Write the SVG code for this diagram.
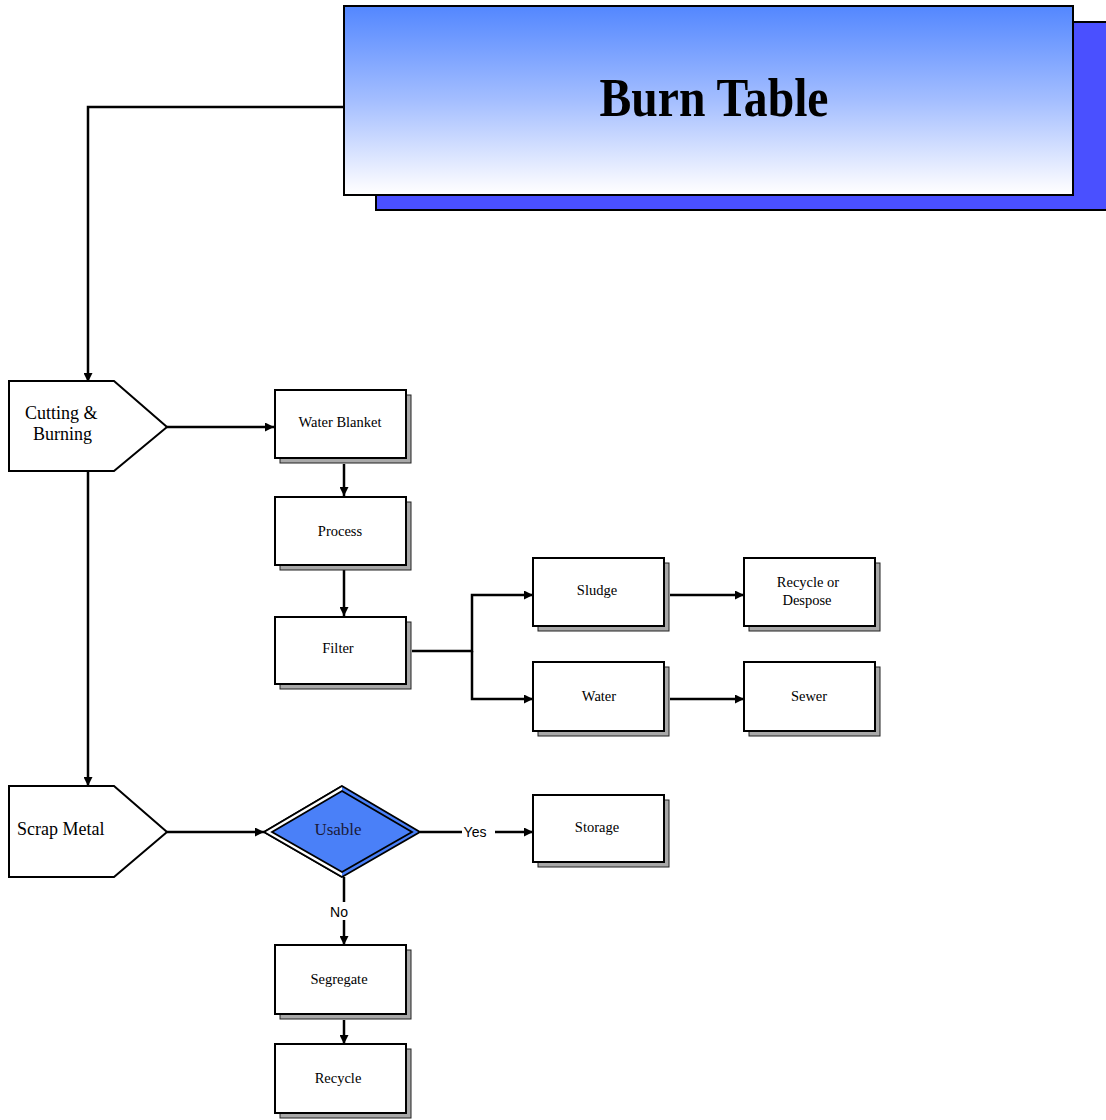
<svg xmlns="http://www.w3.org/2000/svg" width="1106" height="1120" viewBox="0 0 1106 1120">
  <defs>
    <linearGradient id="titleFill" x1="0" y1="0" x2="0" y2="1">
      <stop offset="0" stop-color="#5387ff"/>
      <stop offset="0.5" stop-color="#a4beff"/>
      <stop offset="0.95" stop-color="#f8f9ff"/>
      <stop offset="1" stop-color="#ffffff"/>
    </linearGradient>
    <marker id="arrow" viewBox="0 0 10 10" refX="10" refY="5" markerWidth="9" markerHeight="9" markerUnits="userSpaceOnUse" orient="auto">
      <path d="M0,0 L10,5 L0,10 z" fill="#000"/>
    </marker>
  </defs>
  <style>
    .box { fill: #ffffff; stroke: #000; stroke-width: 2; }
    .shadow { fill: #a8a8a8; stroke: #222; stroke-width: 1; }
    .label { font-family: "Liberation Serif", "Times New Roman", serif; font-size: 14.5px; fill: #000; text-anchor: middle; }
    .big { font-family: "Liberation Serif", "Times New Roman", serif; font-size: 18px; fill: #000; }
    .edge { fill: none; stroke: #000; stroke-width: 2.5; }
    .elabel { font-family: "Liberation Sans", Arial, sans-serif; font-size: 14px; fill: #000; text-anchor: middle; }
  </style>

  <rect width="1106" height="1120" fill="#ffffff"/>

  <!-- connectors -->
  <g id="connectors">
    <path class="edge" d="M344,107 H88 V382" marker-end="url(#arrow)"/>
    <path class="edge" d="M167,427 H274" marker-end="url(#arrow)"/>
    <path class="edge" d="M344,464 V496" marker-end="url(#arrow)"/>
    <path class="edge" d="M344,570 V616" marker-end="url(#arrow)"/>
    <path class="edge" d="M412,651 H472 V595 H533" marker-end="url(#arrow)"/>
    <path class="edge" d="M472,651 V699 H533" marker-end="url(#arrow)"/>
    <path class="edge" d="M670,595 H744" marker-end="url(#arrow)"/>
    <path class="edge" d="M670,699 H744" marker-end="url(#arrow)"/>
    <path class="edge" d="M88,471 V786" marker-end="url(#arrow)"/>
    <path class="edge" d="M167,832 H264" marker-end="url(#arrow)"/>
    <path class="edge" d="M420,832 H462"/>
    <path class="edge" d="M495,832 H533" marker-end="url(#arrow)"/>
    <text class="elabel" x="475" y="837">Yes</text>
    <path class="edge" d="M344,877 V902"/>
    <path class="edge" d="M344,920 V945" marker-end="url(#arrow)"/>
    <text class="elabel" x="339" y="917">No</text>
    <path class="edge" d="M344,1020 V1044" marker-end="url(#arrow)"/>
  </g>

  <!-- title -->
  <g id="title">
    <rect x="376" y="22" width="740" height="188" fill="#4a50ff" stroke="#000" stroke-width="2"/>
    <rect x="344" y="6" width="729" height="189" fill="url(#titleFill)" stroke="#000" stroke-width="2"/>
    <text x="714" y="116" font-family="Liberation Serif, 'Times New Roman', serif" font-weight="bold" font-size="54" text-anchor="middle" textLength="229" lengthAdjust="spacingAndGlyphs">Burn Table</text>
  </g>

  <g id="cutting">
    <path class="box" d="M9,381 H114 L167,427 L114,471 H9 Z"/>
    <text class="big" x="25" y="419">Cutting &amp;</text>
    <text class="big" x="33" y="440">Burning</text>
  </g>

  <g id="water-blanket">
    <rect class="shadow" x="280" y="395" width="131" height="68"/>
    <rect class="box" x="275" y="390" width="131" height="68"/>
    <text class="label" x="340" y="427">Water Blanket</text>
  </g>

  <g id="process">
    <rect class="shadow" x="280" y="502" width="131" height="68"/>
    <rect class="box" x="275" y="497" width="131" height="68"/>
    <text class="label" x="340" y="536">Process</text>
  </g>

  <g id="filter">
    <rect class="shadow" x="280" y="622" width="131" height="67"/>
    <rect class="box" x="275" y="617" width="131" height="67"/>
    <text class="label" x="338" y="653">Filter</text>
  </g>

  <g id="sludge">
    <rect class="shadow" x="538" y="563" width="131" height="68"/>
    <rect class="box" x="533" y="558" width="131" height="68"/>
    <text class="label" x="597" y="595">Sludge</text>
  </g>

  <g id="water">
    <rect class="shadow" x="538" y="667" width="131" height="69"/>
    <rect class="box" x="533" y="662" width="131" height="69"/>
    <text class="label" x="599" y="701">Water</text>
  </g>

  <g id="recycle-or-despose">
    <rect class="shadow" x="749" y="563" width="131" height="68"/>
    <rect class="box" x="744" y="558" width="131" height="68"/>
    <text class="label" x="808" y="587">Recycle or</text>
    <text class="label" x="807" y="605">Despose</text>
  </g>

  <g id="sewer">
    <rect class="shadow" x="749" y="667" width="131" height="69"/>
    <rect class="box" x="744" y="662" width="131" height="69"/>
    <text class="label" x="809" y="701">Sewer</text>
  </g>

  <g id="scrap-metal">
    <path class="box" d="M9,786 H114 L167,832 L114,877 H9 Z"/>
    <text class="big" x="17" y="835">Scrap Metal</text>
  </g>

  <g id="usable">
    <polygon points="264,832 342,786 420,832 342,877" fill="#4a80f8" stroke="#000" stroke-width="1.8"/>
    <polygon points="264,832 342,786 342,791 272,832 342,872 342,877" fill="#ffffff"/>
    <polygon points="272,832 342,791 412,832 342,872" fill="#4a80f8" stroke="#000" stroke-width="1.8"/>
    <polyline points="342,786 264,832 342,877" fill="none" stroke="#000" stroke-width="1.8"/>
    <text x="338" y="835" font-family="Liberation Serif, 'Times New Roman', serif" font-size="17" fill="#1a1a3a" text-anchor="middle">Usable</text>
  </g>

  <g id="storage">
    <rect class="shadow" x="538" y="800" width="131" height="67"/>
    <rect class="box" x="533" y="795" width="131" height="67"/>
    <text class="label" x="597" y="832">Storage</text>
  </g>

  <g id="segregate">
    <rect class="shadow" x="280" y="950" width="131" height="69"/>
    <rect class="box" x="275" y="945" width="131" height="69"/>
    <text class="label" x="339" y="984">Segregate</text>
  </g>

  <g id="recycle">
    <rect class="shadow" x="280" y="1049" width="131" height="69"/>
    <rect class="box" x="275" y="1044" width="131" height="69"/>
    <text class="label" x="338" y="1083">Recycle</text>
  </g>
</svg>
